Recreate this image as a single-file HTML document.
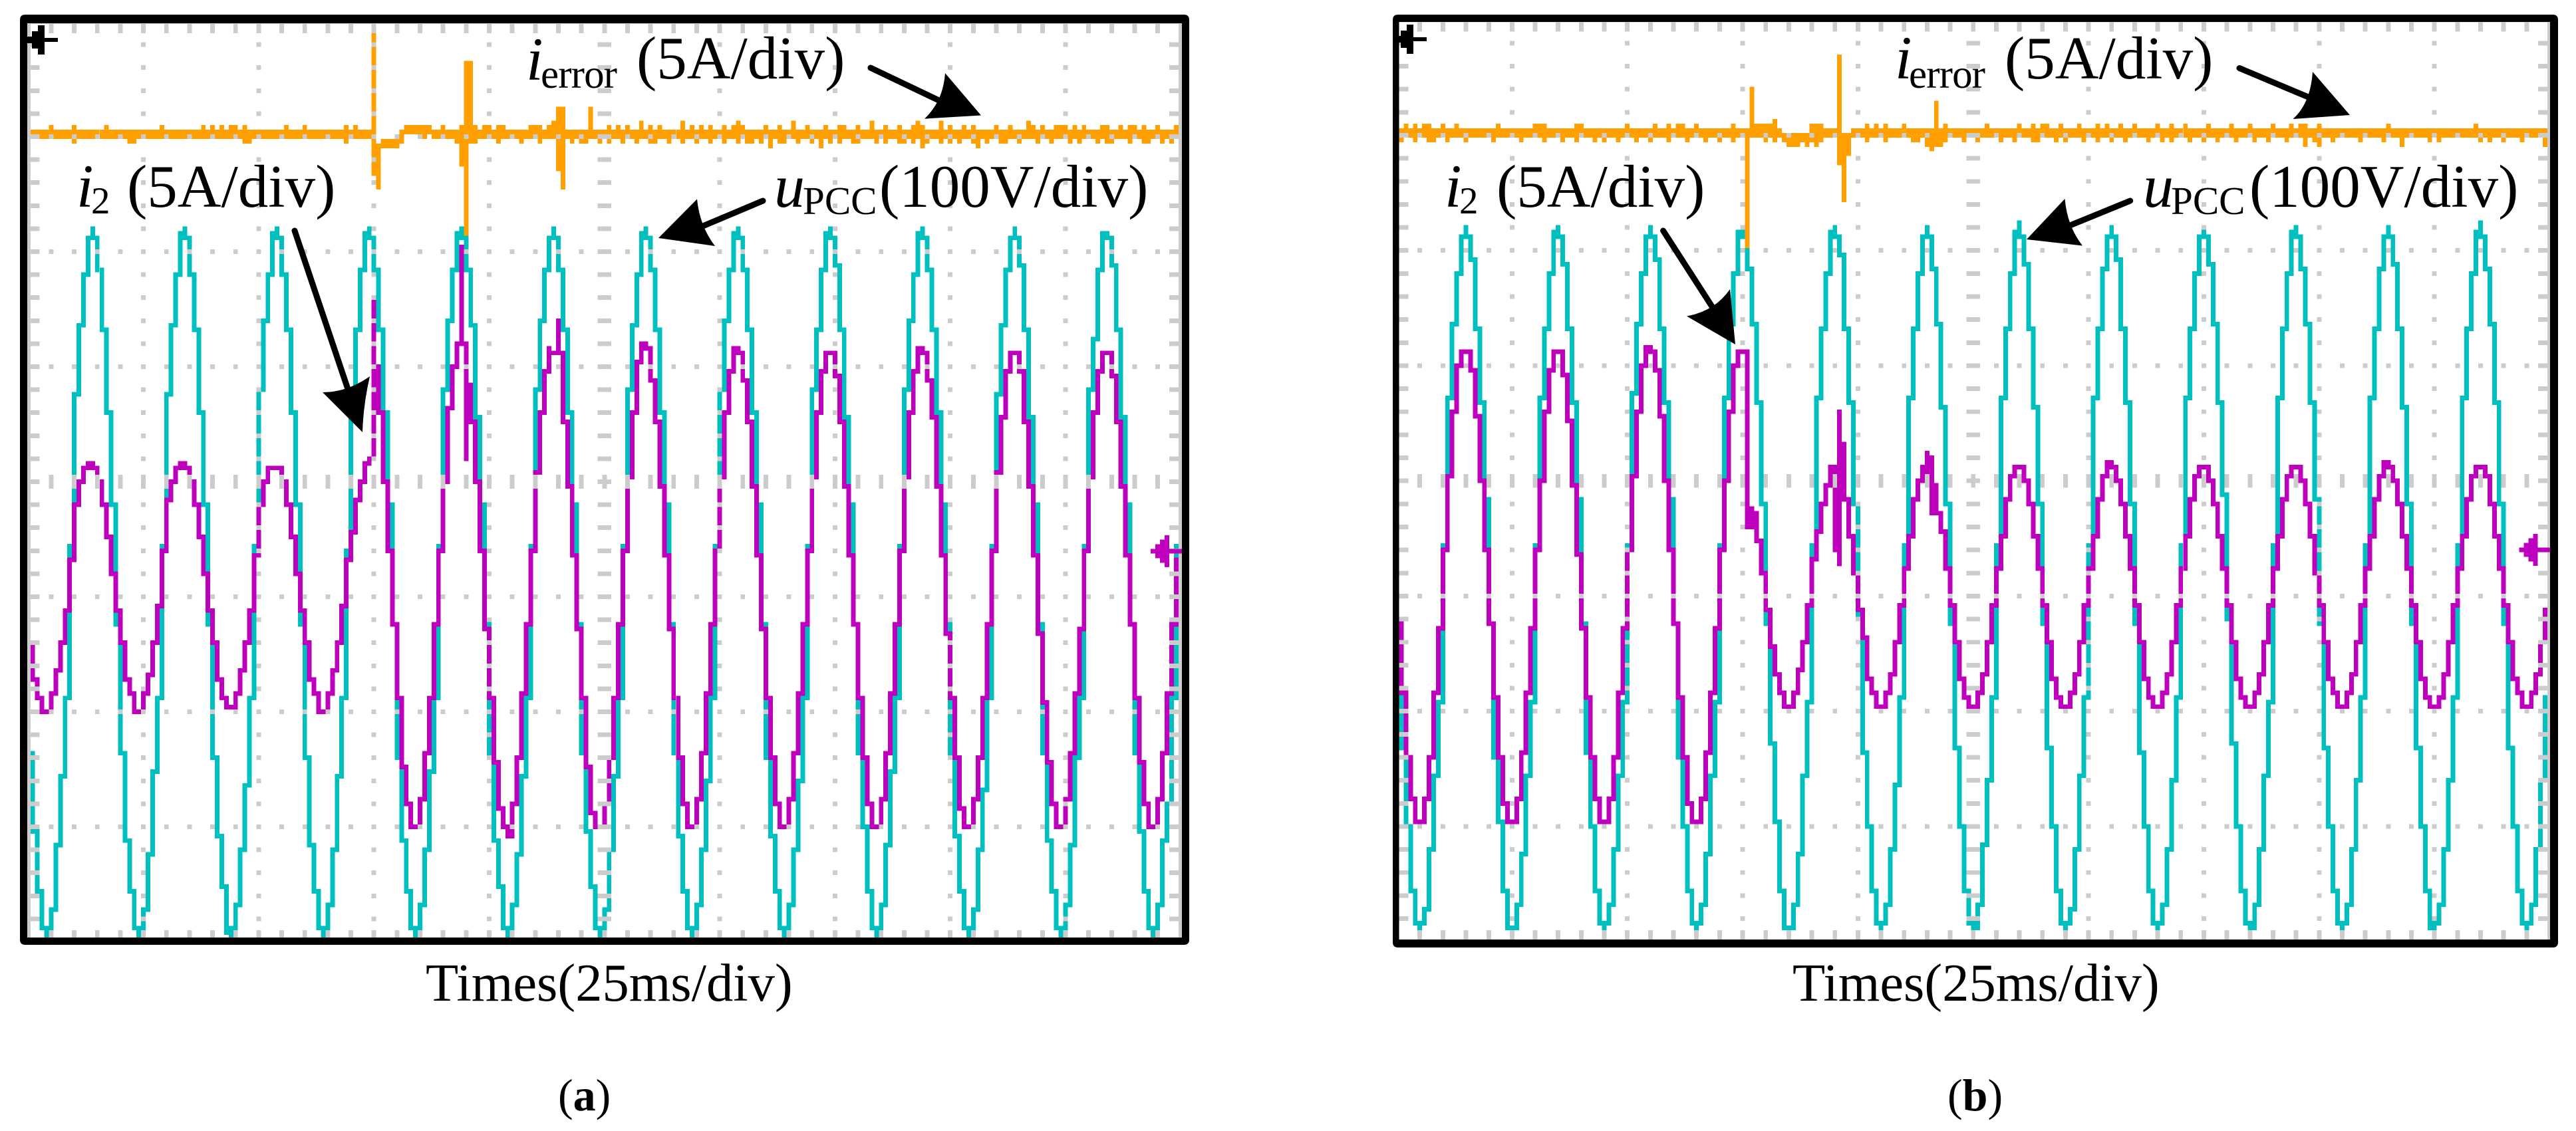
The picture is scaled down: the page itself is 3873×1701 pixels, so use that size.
<!DOCTYPE html>
<html lang="en">
<head>
<meta charset="utf-8">
<title>Oscilloscope waveforms (a) and (b)</title>
<style>
html,body{margin:0;padding:0;background:#fff;}
svg{display:block;}
text{font-family:"Liberation Serif","Times New Roman",serif;fill:#000;}
.it{font-style:italic;}
</style>
</head>
<body>
<svg id="chart" xmlns="http://www.w3.org/2000/svg" width="3873" height="1701" viewBox="0 0 3873 1701">
<rect width="3873" height="1701" fill="#fff"/>
<g id="panelA"></g>
<g id="panelB"></g>

<g>
<text class="it" x="115" y="311" font-size="92">i</text>
<text x="137" y="321" font-size="57">2</text>
<text x="191" y="311" font-size="91">(5A/div)</text>
<text class="it" x="791" y="120" font-size="92">i</text>
<text x="813" y="132" font-size="61" textLength="115">error</text>
<text x="957" y="118" font-size="91">(5A/div)</text>
<text class="it" x="1164" y="311" font-size="92">u</text>
<text x="1207" y="322" font-size="59">PCC</text>
<text x="1322" y="311" font-size="91">(100V/div)</text>
<text x="640" y="1505" font-size="80.500">Times(25ms/div)</text>
<text x="839" y="1670" font-size="68">(<tspan font-weight="bold">a</tspan>)</text>
</g>
<g>
<text class="it" x="2172" y="311" font-size="92">i</text>
<text x="2194" y="321" font-size="57">2</text>
<text x="2250" y="311" font-size="91">(5A/div)</text>
<text class="it" x="2849" y="118" font-size="92">i</text>
<text x="2870" y="132" font-size="61" textLength="115">error</text>
<text x="3014" y="118" font-size="91">(5A/div)</text>
<text class="it" x="3222" y="311" font-size="92">u</text>
<text x="3264" y="322" font-size="59">PCC</text>
<text x="3382" y="311" font-size="91">(100V/div)</text>
<text x="2695" y="1505" font-size="80.500">Times(25ms/div)</text>
<text x="2928" y="1670" font-size="68">(<tspan font-weight="bold">b</tspan>)</text>
</g>
<g fill="#000" stroke="none">
<g>
<line x1="443" y1="347" x2="528" y2="600" stroke="#000" stroke-width="9" stroke-linecap="round"/>
<path d="M545 650 L485 590 Q522 590 556 566 Q546 610 545 650Z"/>
</g>
<g>
<line x1="1309" y1="102" x2="1420" y2="155" stroke="#000" stroke-width="9" stroke-linecap="round"/>
<path d="M1475 173.500 L1390 178.600 Q1418 152 1421 110Z"/>
</g>
<g>
<line x1="1147" y1="302" x2="1045" y2="345" stroke="#000" stroke-width="9" stroke-linecap="round"/>
<path d="M990 358 L1048 299.500 Q1052 340 1075 370Z"/>
</g>
<g>
<line x1="2500.600" y1="347" x2="2583" y2="475" stroke="#000" stroke-width="9" stroke-linecap="round"/>
<path d="M2609 518 L2536 475.500 Q2578 468 2601 435Z"/>
</g>
<g>
<line x1="3367" y1="102.500" x2="3480" y2="150" stroke="#000" stroke-width="9" stroke-linecap="round"/>
<path d="M3533 173 L3447.500 179 Q3474 155 3477 108Z"/>
</g>
<g>
<line x1="3202.700" y1="302" x2="3105" y2="342" stroke="#000" stroke-width="9" stroke-linecap="round"/>
<path d="M3047 360 L3104.500 299 Q3108 340 3131 369.500Z"/>
</g>
</g>
</svg>

<script>
// Levels are raster rows relative to the graticule centre: 25 rows = 1 division.
// One entry per time column: 25 columns = 1 division (25 ms).
const upccA = [
-49,-59,-76,-89,-97,-97,-93,-79,-64,-47,-14,19,34,45,53,53,46,33,15,-5,
-31,-59,-78,-89,-97,-97,-93,-81,-63,-47,-14,19,34,45,54,53,45,33,15,-5,
-31,-60,-77,-88,-98,-97,-92,-80,-66,-47,-14,20,35,45,54,53,45,33,15,-5,
-31,-60,-79,-89,-97,-97,-92,-80,-64,-47,-15,14,33,46,54,53,46,33,15,-5,
-31,-60,-78,-89,-97,-97,-92,-80,-63,-47,-14,20,35,46,54,53,46,34,14,-5,
-31,-59,-78,-88,-97,-97,-92,-81,-64,-47,-14,20,35,46,53,53,46,33,15,-5,
-31,-59,-76,-88,-97,-97,-93,-80,-64,-47,-14,20,34,45,54,53,46,33,15,-5,
-31,-59,-77,-89,-97,-97,-92,-80,-65,-47,-14,20,35,46,54,53,46,33,15,-5,
-31,-60,-77,-89,-97,-97,-92,-80,-65,-47,-14,20,33,46,54,53,47,33,14,-5,
-31,-59,-75,-89,-97,-97,-92,-79,-63,-47,-14,20,35,45,54,53,46,33,15,-5,
-31,-60,-77,-89,-97,-97,-93,-80,-67,-47,-14,19,34,46,53,53,47,33,14,-5,
-31,-59,-78,-89,-97,-97,-92,-79,-60,-47,-14,20,31,46,54,53,47,33,14,-5,
-31,-59,-76,-89,-97,-97,-92,-78,-70,-47,-14,19];
// Single-column tips on the voltage trace: [column, top level, bottom level]
const upccSpikesA = [
[14,55,53],[34,55,54],[54,55,54],[74,55,54],[94,55,54],[114,55,53],[134,55,54],[154,55,54],[174,55,54],[194,55,54],[214,55,53],
[4,-97,-99],[24,-97,-99],[44,-98,-99],[64,-97,-99],[84,-97,-99],[104,-97,-99],[124,-97,-99],[144,-97,-99],[164,-97,-99],[184,-97,-99],[204,-97,-99],[224,-97,-99],[244,-97,-99]];
const i2A = [
-32,-35,-43,-47,-50,-50,-46,-41,-35,-28,
-17,-5,0,3,4,3,0,-5,-12,-20,
-28,-35,-43,-46,-50,-50,-46,-42,-35,-27,
-15,-4,0,3,4,3,0,-5,-12,-20,
-28,-35,-43,-47,-49,-49,-46,-41,-35,-28,
-16,-5,0,3,3,3,0,-5,-12,-20,
-28,-35,-43,-46,-50,-50,-46,-41,-35,-27,
-17,-11,-4,0,4,5,15,15,0,-15,
-31,-47,-62,-70,-75,-75,-69,-59,-47,-31,
-15,0,16,25,30,30,21,13,0,-15,
-32,-47,-61,-71,-75,-77,-70,-60,-46,-31,
-15,2,15,24,28,28,28,13,-1,-16,
-32,-47,-62,-72,-75,-75,-70,-60,-47,-31,
-15,1,15,26,30,29,22,13,-1,-16,
-32,-47,-60,-70,-75,-75,-69,-59,-46,-31,
-15,1,15,24,29,28,22,13,-1,-16,
-32,-47,-60,-70,-75,-75,-69,-59,-46,-31,
-15,1,15,24,28,28,23,13,-1,-16,
-31,-47,-60,-70,-75,-75,-69,-59,-46,-31,
-15,1,15,24,29,28,22,14,-1,-16,
-33,-47,-60,-71,-75,-75,-69,-60,-47,-31,
-15,2,14,24,28,28,24,13,-1,-16,
-33,-48,-61,-70,-75,-75,-69,-59,-46,-32,
-15,1,15,24,28,28,23,13,-1,-16,
-31,-47,-61,-70,-75,-75,-69,-59,-46,-31,
-17,2];
// Transient spikes on i2: [column, top level, bottom level]
const i2SpikesA = [[75,39,5],[76,25,15],[94,51,30],[95,30,5],[113,29,24],[115,35,28]];
const errorHiA = [
76,76,76,76,76,77,76,76,76,76,77,76,76,76,76,76,76,77,76,76,76,76,76,76,76,
76,76,76,76,77,76,76,76,76,76,76,76,76,77,76,77,76,77,76,77,77,76,77,76,76,
76,76,76,76,76,76,77,76,76,76,77,76,76,76,76,76,76,76,76,77,76,77,76,76,76,
98,73,74,74,74,74,76,77,77,77,77,77,77,76,76,77,76,76,76,77,91,91,77,76,77,
77,76,77,77,76,76,76,76,76,77,77,77,76,77,78,81,81,76,76,76,76,76,81,76,76,
76,77,76,77,76,77,76,76,78,76,77,76,77,76,76,76,76,78,76,77,76,77,76,77,76,
76,77,76,77,78,77,76,76,76,76,77,76,76,77,76,76,78,76,76,77,76,76,76,77,76,
76,77,77,76,76,77,76,76,78,76,76,77,76,76,77,76,76,77,78,77,76,76,76,78,76,
77,76,76,77,76,77,76,76,76,76,77,76,76,77,76,76,76,78,77,76,77,76,76,77,77,
77,76,77,76,77,76,76,76,77,77,76,76,77,76,77,77,76,77,76,76,77,76,76,76,77,
77,77];
const errorLoA = [
75,75,75,75,75,75,75,75,75,75,74,75,75,75,75,75,75,75,75,75,75,75,74,74,75,
75,75,75,75,75,75,75,75,75,75,75,75,75,75,75,75,75,75,75,75,75,75,74,74,75,
75,75,75,75,75,75,75,75,75,75,75,75,75,75,75,75,75,75,75,74,75,75,75,75,75,
67,64,73,73,73,73,74,76,76,76,75,75,76,75,75,75,75,75,74,69,54,74,74,75,75,
75,75,74,75,75,75,75,74,75,75,75,74,75,75,75,68,64,75,74,75,74,74,75,75,74,
75,74,75,75,74,75,75,74,75,75,74,74,75,75,74,75,75,74,75,75,74,75,75,74,75,
75,74,75,75,74,75,74,74,75,74,75,73,75,74,74,75,75,74,75,75,74,75,73,75,74,
75,74,75,75,74,74,75,75,75,74,75,74,75,75,74,74,75,74,75,73,74,75,75,74,75,
74,75,74,75,75,74,73,75,74,75,75,74,74,75,75,74,75,75,75,74,75,75,74,75,75,
75,74,75,74,75,75,75,74,75,74,74,75,75,75,74,75,75,74,74,75,75,74,75,74,75,
75,75];

const upccB = [
-5,-31,-58,-75,-89,-96,-96,-93,-80,-64,-48,-14,18,34,45,53,53,48,33,17,
-4,-31,-60,-74,-89,-97,-97,-92,-81,-64,-48,-14,18,33,45,54,53,47,33,17,
-4,-31,-59,-75,-89,-96,-96,-92,-80,-64,-48,-14,19,34,45,53,53,48,33,17,
-4,-31,-60,-75,-89,-96,-96,-92,-81,-64,-48,-14,18,34,45,54,53,46,34,17,
-5,-31,-57,-74,-89,-97,-97,-92,-81,-64,-48,-14,18,33,45,54,53,49,33,17,
-5,-30,-59,-75,-89,-96,-96,-92,-80,-66,-47,-14,18,33,45,53,53,46,34,16,
-5,-31,-58,-75,-89,-96,-97,-92,-79,-65,-47,-14,18,33,45,54,53,47,33,16,
-5,-31,-58,-75,-89,-96,-96,-93,-80,-64,-47,-14,18,33,46,53,53,48,33,17,
-5,-31,-59,-75,-89,-96,-96,-92,-80,-65,-47,-14,18,33,45,53,53,47,34,17,
-3,-30,-57,-75,-89,-96,-97,-92,-80,-64,-48,-14,18,33,45,54,53,46,34,17,
-4,-31,-58,-75,-89,-96,-96,-92,-80,-65,-47,-14,18,33,46,53,53,47,33,16,
-5,-31,-58,-75,-89,-97,-96,-92,-80,-65,-47,-14,18,33,45,54,53,46,34,17,
-5,-31,-58,-75,-89,-96,-96,-92,-80,-65,-47,-14];
const upccSpikesB = [
[15,55,53],[35,55,54],[55,55,53],[75,55,54],[95,55,54],[115,55,53],[135,56,54],[155,55,54],[175,55,53],[195,55,54],[215,55,53],[235,56,54],
[5,-96,-99],[25,-97,-99],[45,-96,-99],[65,-96,-99],[85,-97,-99],[105,-96,-99],[125,-96,-99],[145,-96,-99],[165,-96,-99],[185,-96,-99],[205,-96,-99],[225,-97,-99],[245,-96,-99]];
const i2B = [
-16,-30,-46,-60,-69,-74,-74,-69,-60,-46,
-32,-15,1,15,25,28,28,24,14,0,
-15,-31,-47,-60,-70,-74,-74,-69,-59,-46,
-32,-15,0,15,24,28,28,23,13,-1,
-16,-32,-47,-60,-69,-74,-74,-69,-60,-46,
-32,-15,1,15,25,29,28,24,14,0,
-15,-31,-47,-60,-70,-74,-74,-69,-59,-46,
-32,-15,0,15,25,28,28,-6,-7,-13,
-20,-28,-36,-42,-46,-49,-49,-46,-41,-35,
-27,-17,-11,-5,-1,3,1,-4,-4,-12,
-20,-28,-34,-43,-46,-49,-49,-46,-42,-35,
-27,-19,-12,-4,0,3,2,-3,-7,-11,
-19,-27,-35,-43,-47,-49,-49,-46,-42,-35,
-27,-19,-12,-4,1,3,3,0,-5,-12,
-19,-27,-35,-43,-47,-49,-49,-46,-42,-35,
-27,-19,-12,-4,1,4,3,0,-5,-12,
-19,-27,-35,-43,-47,-49,-49,-46,-42,-35,
-27,-19,-12,-4,1,3,3,0,-5,-12,
-19,-27,-35,-43,-47,-49,-49,-46,-42,-35,
-27,-19,-12,-4,1,3,3,0,-5,-12,
-20,-27,-35,-43,-46,-49,-49,-46,-42,-35,
-27,-19,-12,-4,1,4,3,0,-5,-12,
-19,-27,-35,-43,-47,-49,-49,-47,-42,-35,
-27,-19,-12,-4,1,3,3,1,-5,-12,
-19,-27,-35,-43,-46,-49,-49,-46,-42,-35,
-28,-19];
const i2SpikesB = [[76,28,-10],[77,-6,-10],[95,1,-15],[96,15,-18],[97,8,-4],[115,6,3],[116,5,-7],[117,-1,-7]];
const errorHiB = [
76,76,77,76,77,76,77,77,76,76,77,76,76,77,76,76,76,76,76,76,76,76,77,76,76,
76,76,76,76,76,77,77,77,76,76,76,76,76,76,77,77,76,76,76,76,76,76,76,76,76,
77,76,76,76,76,76,77,76,76,77,76,77,77,76,76,77,76,76,76,76,76,76,76,77,76,
76,76,85,77,77,77,77,78,76,75,75,75,75,75,75,77,77,77,76,76,76,92,75,75,76,
76,76,77,76,77,76,77,76,76,76,77,76,76,76,76,76,76,82,76,77,76,76,76,76,76,
76,76,76,77,76,76,76,76,76,76,77,76,76,77,76,77,77,76,76,77,76,76,76,77,76,
76,76,77,76,77,76,76,77,76,76,77,76,76,76,76,77,76,76,77,76,76,77,76,76,76,
76,77,76,76,76,76,77,76,76,76,77,76,76,76,76,77,76,76,76,77,76,77,77,76,76,
77,76,76,76,76,76,76,76,76,76,76,76,76,76,76,77,76,76,76,76,76,76,76,76,76,
76,76,76,76,76,76,76,76,76,77,76,76,76,76,76,76,76,76,76,76,76,76,76,76,76,
76,76];
const errorLoB = [
75,74,75,75,74,75,75,74,74,75,75,74,75,75,75,74,75,75,75,75,75,74,75,75,75,
75,75,74,75,75,75,75,74,75,75,75,74,75,75,74,75,75,75,74,75,74,75,75,74,75,
75,75,74,75,75,74,75,75,75,74,75,75,75,74,75,75,75,74,75,75,74,75,75,74,75,
75,51,75,75,75,74,75,74,75,74,73,73,73,74,73,74,73,74,75,75,75,69,61,71,75,
75,75,74,75,75,75,74,75,75,75,75,75,74,74,75,73,72,73,73,74,75,75,75,74,75,
75,74,75,75,75,75,74,75,75,74,75,75,75,74,74,75,75,75,74,75,74,75,75,75,74,
75,75,74,75,75,74,75,75,74,75,75,75,75,74,75,75,74,75,74,75,75,75,74,75,75,
74,75,75,74,75,75,75,74,75,75,75,74,75,75,74,75,75,75,74,75,75,75,73,75,74,
73,75,75,74,75,75,75,75,75,74,75,75,75,75,74,75,75,75,73,75,75,75,75,75,74,
75,74,75,75,75,75,75,75,75,75,74,75,74,75,75,74,75,75,75,74,75,75,75,75,73,
75,75];

const NS = 'http://www.w3.org/2000/svg';
const COL_CYAN = '#00BFBF', COL_MAG = '#BE00BE', COL_ORG = '#FFA000', COL_GRID = '#CCCCCC';

function makeAxes(x0, dx, y0, dy) {
  return { x: function (c) { return x0 + c * dx; }, y: function (l) { return y0 - l * dy; }, dx: dx, dy: dy };
}
function span(ax, c, hi, lo) {
  const x = ax.x(c) - ax.dx / 2;
  const y = ax.y(hi) - ax.dy / 2;
  const h = (hi - lo + 1) * ax.dy;
  return 'M' + x.toFixed(2) + ' ' + y.toFixed(2) + 'h' + ax.dx.toFixed(3) + 'v' + h.toFixed(2) + 'h' + (-ax.dx).toFixed(3) + 'z';
}
function block(ax, c, l, wc, hc) {
  const x = ax.x(c) - ax.dx * wc / 2;
  const y = ax.y(l) - ax.dy * hc / 2;
  return 'M' + x.toFixed(2) + ' ' + y.toFixed(2) + 'h' + (ax.dx * wc).toFixed(2) + 'v' + (ax.dy * hc).toFixed(2) + 'h' + (-ax.dx * wc).toFixed(2) + 'z';
}
function linePathFromLevels(ax, levels) {
  let d = '';
  for (let c = 0; c < levels.length - 1; c++) {
    d += span(ax, c, Math.max(levels[c], levels[c + 1]), Math.min(levels[c], levels[c + 1]));
  }
  return d;
}
function spikesPath(ax, spikes) {
  let d = '';
  spikes.forEach(function (s) { d += span(ax, s[0], s[1], s[2]); });
  return d;
}
function bandPath(ax, hi, lo) {
  let d = '';
  for (let c = 0; c < hi.length; c++) d += span(ax, c, hi[c], lo[c]);
  return d;
}
function gridPath(ax) {
  let d = '';
  // horizontal division rows with dots every minor step
  [-75, -50, -25, 25, 50, 75].forEach(function (l) {
    for (let c = 5; c < 250; c += 5) d += block(ax, c, l, 1, 1);
  });
  // vertical division columns with dots every minor step
  [25, 50, 75, 100, 150, 175, 200, 225].forEach(function (c) {
    for (let l = -95; l <= 95; l += 5) d += block(ax, c, l, 1, 1);
  });
  // centre cross
  for (let c = 5; c < 250; c += 5) d += block(ax, c, 0, 1, 3);
  for (let l = -95; l <= 95; l += 5) d += block(ax, 125, l, 3, 1);
  // edge ticks
  for (let c = 5; c < 250; c += 5) {
    d += block(ax, c, 99, 1, 3);
    d += block(ax, c, -99, 1, 3);
  }
  for (let l = -95; l <= 95; l += 5) {
    d += block(ax, 1, l, 3, 1);
    d += block(ax, 249, l, 3, 1);
  }
  // graticule border lines
  d += 'M' + (ax.x(0) - ax.dx / 2).toFixed(2) + ' ' + ax.y(100).toFixed(2) + 'h' + (ax.dx).toFixed(2) + 'V' + ax.y(-100).toFixed(2) + 'h' + (-ax.dx).toFixed(2) + 'z';
  d += 'M' + (ax.x(250) - ax.dx / 2).toFixed(2) + ' ' + ax.y(100).toFixed(2) + 'h' + (ax.dx).toFixed(2) + 'V' + ax.y(-100).toFixed(2) + 'h' + (-ax.dx).toFixed(2) + 'z';
  d += 'M' + ax.x(0).toFixed(2) + ' ' + (ax.y(100) - ax.dy / 2).toFixed(2) + 'H' + ax.x(250).toFixed(2) + 'v' + ax.dy.toFixed(2) + 'H' + ax.x(0).toFixed(2) + 'z';
  return d;
}
function framePath(f) {
  const r = 8;
  const o = 'M' + (f.ox0 + r) + ' ' + f.oy0 + 'H' + (f.ox1 - r) + 'Q' + f.ox1 + ' ' + f.oy0 + ' ' + f.ox1 + ' ' + (f.oy0 + r) +
    'V' + (f.oy1 - r) + 'Q' + f.ox1 + ' ' + f.oy1 + ' ' + (f.ox1 - r) + ' ' + f.oy1 +
    'H' + (f.ox0 + r) + 'Q' + f.ox0 + ' ' + f.oy1 + ' ' + f.ox0 + ' ' + (f.oy1 - r) +
    'V' + (f.oy0 + r) + 'Q' + f.ox0 + ' ' + f.oy0 + ' ' + (f.ox0 + r) + ' ' + f.oy0 + 'Z';
  const i = 'M' + f.ix0 + ' ' + f.iy0 + 'H' + f.ix1 + 'V' + f.iy1 + 'H' + f.ix0 + 'Z';
  return o + i;
}

function drawPanel(root, prefix, ax, upcc, upccSpikes, i2, spikes, hi, lo, frame, trig, marker) {
  const pUpcc = document.createElementNS(NS, 'path');
  
  
  pUpcc.setAttribute('d', linePathFromLevels(ax, upcc) + spikesPath(ax, upccSpikes));
  pUpcc.setAttribute('fill', COL_CYAN);
  pUpcc.setAttribute('shape-rendering', 'crispEdges');
  root.appendChild(pUpcc);

  const pI2 = document.createElementNS(NS, 'path');
  
  
  pI2.setAttribute('d', linePathFromLevels(ax, i2) + spikesPath(ax, spikes));
  pI2.setAttribute('fill', COL_MAG);
  pI2.setAttribute('shape-rendering', 'crispEdges');
  root.appendChild(pI2);

  const pErr = document.createElementNS(NS, 'path');
  
  
  pErr.setAttribute('d', bandPath(ax, hi, lo));
  pErr.setAttribute('fill', COL_ORG);
  pErr.setAttribute('shape-rendering', 'crispEdges');
  root.appendChild(pErr);

  const pGrid = document.createElementNS(NS, 'path');
  
  
  pGrid.setAttribute('d', gridPath(ax));
  pGrid.setAttribute('fill', COL_GRID);
  pGrid.setAttribute('shape-rendering', 'crispEdges');
  root.appendChild(pGrid);

  const pMark = document.createElementNS(NS, 'path');
  
  
  const mx = marker.x, my = marker.y;
  pMark.setAttribute('d',
    'M' + mx + ' ' + (my - 3.5) + 'h7v7h-7z' +
    'M' + (mx + 7) + ' ' + (my - 10.5) + 'h7v21h-7z' +
    'M' + (mx + 14) + ' ' + (my - 17.5) + 'h7v35h-7z' +
    'M' + (mx + 21) + ' ' + (my - 24) + 'h7v48h-7z' +
    'M' + (mx + 28) + ' ' + (my - 3.5) + 'H' + marker.end + 'v7H' + (mx + 28) + 'z');
  pMark.setAttribute('fill', COL_MAG);
  pMark.setAttribute('shape-rendering', 'crispEdges');
  root.appendChild(pMark);

  const pTrig = document.createElementNS(NS, 'path');
  
  
  const tx = trig.x, ty = trig.y;
  pTrig.setAttribute('d',
    'M' + tx + ' ' + (ty - 5) + 'h8v10h-8z' +
    'M' + (tx + 7) + ' ' + (ty - 13) + 'h9v26h-9z' +
    'M' + (tx + 16) + ' ' + (ty - 22) + 'h10v44h-10z' +
    'M' + (tx + 26) + ' ' + (ty - 3) + 'h20v6h-20z');
  pTrig.setAttribute('fill', '#000');
  root.appendChild(pTrig);

  const pFrame = document.createElementNS(NS, 'path');
  
  
  pFrame.setAttribute('d', framePath(frame));
  pFrame.setAttribute('fill', '#000');
  pFrame.setAttribute('fill-rule', 'evenodd');
  root.appendChild(pFrame);
}

drawPanel(document.getElementById('panelA'), 'a',
  makeAxes(42.3, 6.932, 724.5, 6.92),
  upccA, upccSpikesA, i2A, i2SpikesA, errorHiA, errorLoA,
  { ox0: 30, oy0: 22, ox1: 1788, oy1: 1421, ix0: 41, iy0: 35, ix1: 1777, iy1: 1410 },
  { x: 41, y: 60 },
  { x: 1730, y: 829, end: 1778 });

drawPanel(document.getElementById('panelB'), 'b',
  makeAxes(2100, 6.934, 723.2, 6.93),
  upccB, upccSpikesB, i2B, i2SpikesB, errorHiB, errorLoB,
  { ox0: 2094, oy0: 22, ox1: 3846, oy1: 1425, ix0: 2103.5, iy0: 33, ix1: 3834, iy1: 1413 },
  { x: 2099, y: 59 },
  { x: 3787.5, y: 827, end: 3835 });
</script>
</body>
</html>
